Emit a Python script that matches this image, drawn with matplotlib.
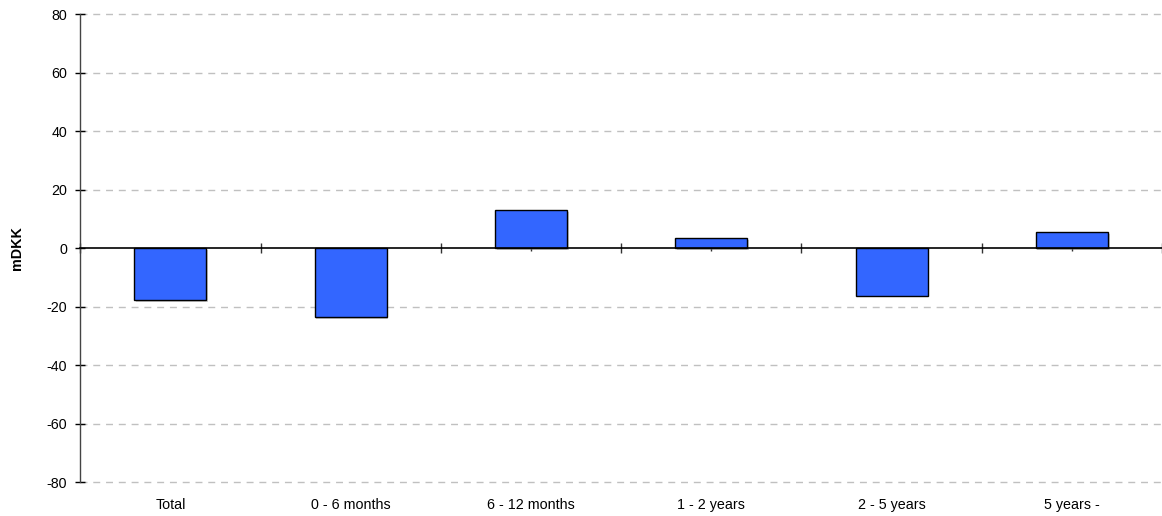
import matplotlib
matplotlib.use("Agg")
import matplotlib.pyplot as plt
import matplotlib.patheffects as pe
import numpy as np

plt.rcParams['font.family'] = ['Liberation Sans', 'DejaVu Sans']

categories = ["Total", "0 - 6 months", "6 - 12 months", "1 - 2 years", "2 - 5 years", "5 years -"]
values = [-17.7, -23.5, 13.0, 3.4, -16.2, 5.5]
y_ticks = [-80, -60, -40, -20, 0, 20, 40, 60, 80]

fig = plt.figure(figsize=(11.62, 5.16), dpi=100)
ax = fig.add_axes([0.0691, 0.0653, 0.9309, 0.9066])

x = np.arange(len(categories))
bars = ax.bar(x, values, width=0.4, color="#3366FF", edgecolor="black",
              linewidth=1.0, zorder=3)
for b in bars:
    b.set_path_effects([pe.SimplePatchShadow(offset=(1.2, -1.2), shadow_rgbFace="#999999", alpha=0.5),
                        pe.Normal()])

ax.set_xlim(-0.5, len(categories) - 0.5)
ax.set_ylim(-80, 80)
ax.set_yticks(y_ticks)
ax.set_yticklabels([str(v) for v in y_ticks], fontsize=10.3)

# dashed horizontal grid
for v in y_ticks:
    if v != 0:
        ax.axhline(v, color="#C0C0C0", linewidth=1.0, dashes=(5.0, 4.2),
                   zorder=1, clip_on=False)

for s in ["top", "right"]:
    ax.spines[s].set_visible(False)
ax.spines["left"].set_color("#444444")
ax.spines["left"].set_linewidth(1.0)
ax.spines["bottom"].set_position(("data", 0))
ax.spines["bottom"].set_color("black")
ax.spines["bottom"].set_linewidth(1.2)
ax.spines["bottom"].set_zorder(4)

ax.tick_params(axis="y", direction="inout", length=7, width=1.0, pad=6, colors="black")
ax.set_xticks(np.arange(len(categories) + 1) - 0.5)
ax.set_xticklabels([])
ax.set_xticks(x, minor=True)
ax.tick_params(axis="x", which="major", direction="inout", length=7, width=1.0, color="#333333")
ax.tick_params(axis="x", which="minor", direction="out", length=2.5, width=1.0, color="#333333")

for xi, lab in zip(x, categories):
    ax.annotate(lab, xy=(xi, -80), xycoords="data", xytext=(0, -16.5),
                textcoords="offset points", ha="center", va="center", fontsize=10.3)

fig.text(17 / 1162, 1 - 248 / 516, "mDKK", rotation=90, ha="center", va="center",
         fontsize=10.3, fontweight="bold")

fig.savefig("out.png", dpi=100)
